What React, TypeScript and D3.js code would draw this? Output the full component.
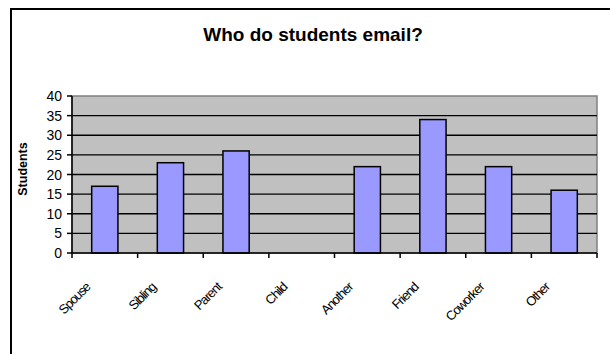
import React from "react";
import * as d3 from "d3";

const categories = ["Spouse", "Sibling", "Parent", "Child", "Another", "Friend", "Coworker", "Other"];
const values = [17, 23, 26, 0, 22, 34, 22, 16];
const yTicks = [0, 5, 10, 15, 20, 25, 30, 35, 40];
const title = "Who do students email?";
const yTitle = "Students";

export default function App() {
  const W = 610, H = 354;
  const left = 72, right = 597, top = 96, bottom = 253;
  const x = d3.scaleBand<string>().domain(categories).range([left, right]).paddingInner(0.6).paddingOuter(0.3);
  const xCat = d3.scaleBand<string>().domain(categories).range([left, right]);
  const y = d3.scaleLinear().domain([0, 40]).range([bottom, top]);
  const font = "Arial, 'Liberation Sans', sans-serif";
  return (
    <svg width={W} height={H} style={{ position: "absolute", left: 0, top: 0 }} fontFamily={font}>
      <rect x={0} y={0} width={W} height={H} fill="#fff" />
      <rect x={11} y={9} width={620} height={400} fill="#fff" stroke="#000" strokeWidth={2} />
      <text x={313} y={41} textAnchor="middle" fontSize={19} fontWeight="bold">{title}</text>
      <rect x={left} y={top} width={right - left} height={bottom - top} fill="#c0c0c0" stroke="#808080" strokeWidth={1.5} />
      {yTicks.filter((t) => t > 0 && t < 40).map((t) => (
        <line key={"g" + t} x1={left} x2={right} y1={y(t)} y2={y(t)} stroke="#000" strokeWidth={1.3} />
      ))}
      {categories.map((c, i) => (
        <rect key={c} x={x(c)} y={y(values[i])} width={x.bandwidth()} height={bottom - y(values[i])}
          fill="#9999ff" stroke="#000" strokeWidth={1.5} style={{ display: values[i] > 0 ? undefined : "none" }} />
      ))}
      <line x1={left} x2={left} y1={top} y2={bottom} stroke="#000" strokeWidth={1.5} />
      <line x1={left} x2={right} y1={bottom} y2={bottom} stroke="#000" strokeWidth={1.5} />
      {yTicks.map((t) => (
        <g key={"t" + t}>
          <line x1={left - 5} x2={left} y1={y(t)} y2={y(t)} stroke="#000" strokeWidth={1.5} />
          <text x={62} y={y(t)} dy="0.36em" textAnchor="end" fontSize={14}>{t}</text>
        </g>
      ))}
      {[...categories.map((c) => xCat(c) as number), right].map((px, i) => (
        <line key={"xt" + i} x1={px} x2={px} y1={bottom} y2={bottom + 5} stroke="#000" strokeWidth={1.5} />
      ))}
      {categories.map((c) => {
        const px = (xCat(c) as number) + 19;
        const py = 288;
        return (
          <text key={"l" + c} x={px} y={py} textAnchor="end" fontSize={13} letterSpacing={-1}
            transform={`rotate(-45 ${px} ${py})`}>{c}</text>
        );
      })}
      <text x={27} y={169} textAnchor="middle" fontSize={12.5} fontWeight="bold" transform={`rotate(-90 27 169)`}>{yTitle}</text>
    </svg>
  );
}
